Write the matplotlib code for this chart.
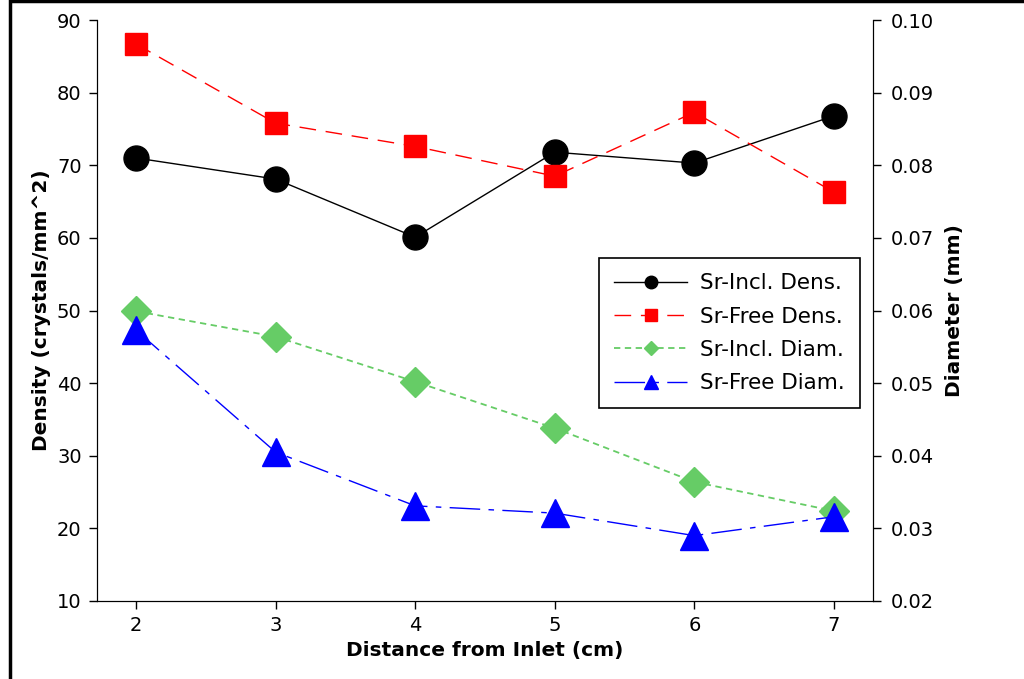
import matplotlib.pyplot as plt
from matplotlib.patches import Rectangle

distance = [2, 3, 4, 5, 6, 7]
incl_dens = [71.0, 68.1, 60.1, 71.8, 70.3, 76.8]
free_dens = [86.7, 75.8, 72.6, 68.5, 77.3, 66.3]
incl_diam = [0.0599, 0.0564, 0.0502, 0.0438, 0.0364, 0.0324]
free_diam = [0.0573, 0.0405, 0.0331, 0.0321, 0.0290, 0.0316]

plt.rcParams['font.family'] = ['DejaVu Sans']

fig = plt.figure(figsize=(10.24, 6.79), dpi=100)
ax = fig.add_axes([0.0947, 0.1149, 0.7578, 0.8556])
ax2 = ax.twinx()

l1, = ax.plot(distance, incl_dens, color='black', lw=1.0, marker='o', markersize=18,
              label='Sr-Incl. Dens.')
l2, = ax.plot(distance, free_dens, color='red', lw=1.0, dashes=(12, 7), marker='s',
              markersize=16, label='Sr-Free Dens.')
l3, = ax2.plot(distance, incl_diam, color='#66cc66', lw=1.3, dashes=(3.5, 2.5), marker='D',
               markersize=15, label='Sr-Incl. Diam.')
l4, = ax2.plot(distance, free_diam, color='blue', lw=1.0, dashes=(22, 6, 4, 6), marker='^',
               markersize=20, label='Sr-Free Diam.')

ax.set_xlim(1.72, 7.28)
ax.set_ylim(10, 90)
ax2.set_ylim(0.02, 0.10)
ax.set_xticks(distance)
ax.set_yticks(range(10, 91, 10))
ax2.set_yticks([0.02, 0.03, 0.04, 0.05, 0.06, 0.07, 0.08, 0.09, 0.10])
ax2.set_yticklabels(['%.2f' % v for v in ax2.get_yticks()])

for a in (ax, ax2):
    a.spines['top'].set_visible(False)
    a.tick_params(labelsize=14, length=6, width=1, pad=5)
ax.tick_params(axis='x', labelsize=14)
ax2.tick_params(pad=7)

ax.set_xlabel('Distance from Inlet (cm)', fontsize=14.5, fontweight='bold')
ax.set_ylabel('Density (crystals/mm^2)', fontsize=14.5, fontweight='bold')
ax2.set_ylabel('Diameter (mm)', fontsize=14.5, fontweight='bold', labelpad=8)

leg = ax2.legend(handles=[l1, l2, l3, l4], loc='upper left', bbox_to_anchor=(0.647, 0.59),
                 fontsize=15.5, markerscale=0.5, fancybox=False, framealpha=1,
                 edgecolor='black', handlelength=3.4, handletextpad=0.6,
                 borderpad=0.7, labelspacing=0.62, borderaxespad=0)
leg.get_frame().set_linewidth(1.2)

# outer frame of the original figure
fig.patches.append(Rectangle((10 / 1024, -0.01), 1.1, 1.008, transform=fig.transFigure,
                             fill=False, edgecolor='black', lw=2.5))

fig.savefig('out.png', dpi=100)
